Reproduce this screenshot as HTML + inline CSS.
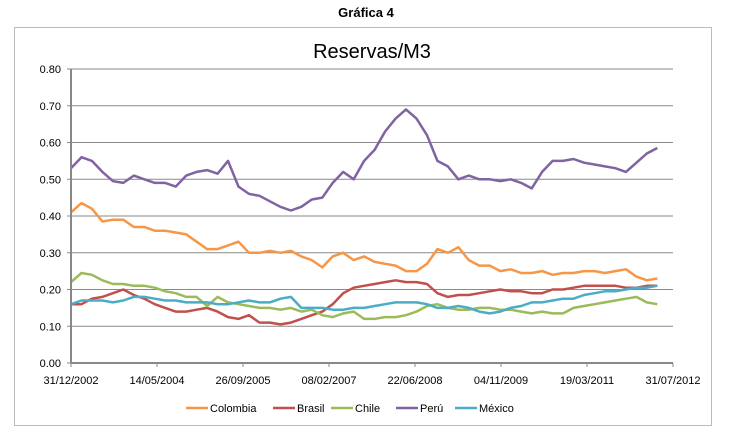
<!DOCTYPE html>
<html><head><meta charset="utf-8"><style>
body{margin:0;background:#fff;font-family:"Liberation Sans",sans-serif}
svg text{font-family:"Liberation Sans",sans-serif}
</style></head><body>
<svg id="c" width="734" height="443" viewBox="0 0 734 443" xmlns="http://www.w3.org/2000/svg">
<text x="366" y="17" text-anchor="middle" font-size="13" font-weight="bold">Gráfica 4</text>
<rect x="14.5" y="27.5" width="697" height="398" fill="#fff" stroke="#bcbcbc"/>
<text x="372" y="58" text-anchor="middle" font-size="20">Reservas/M3</text>
<g id="grid"></g><g id="series"></g><g id="axes"></g>
<g id="legend"></g>
</svg>
<script>
const yTicks=[0,0.1,0.2,0.3,0.4,0.5,0.6,0.7,0.8];
const xTickLabels=["31/12/2002","14/05/2004","26/09/2005","08/02/2007","22/06/2008","04/11/2009","19/03/2011","31/07/2012"];
const seriesNames=["Colombia","Brasil","Chile","Perú","México"];
const colombia=[.41,.435,.42,.385,.39,.39,.37,.37,.36,.36,.355,.35,.33,.31,.31,.32,.33,.30,.30,.305,.30,.305,.29,.28,.26,.29,.30,.28,.29,.275,.27,.265,.25,.25,.27,.31,.30,.315,.28,.265,.265,.25,.255,.245,.245,.25,.24,.245,.245,.25,.25,.245,.25,.255,.235,.225,.23];
const brasil=[.16,.16,.175,.18,.19,.20,.185,.175,.16,.15,.14,.14,.145,.15,.14,.125,.12,.13,.11,.11,.105,.11,.12,.13,.14,.16,.19,.205,.21,.215,.22,.225,.22,.22,.215,.19,.18,.185,.185,.19,.195,.20,.195,.195,.19,.19,.20,.20,.205,.21,.21,.21,.21,.205,.205,.21,.21];
const chile=[.22,.245,.24,.225,.215,.215,.21,.21,.205,.195,.19,.18,.18,.155,.18,.165,.16,.155,.15,.15,.145,.15,.14,.145,.13,.125,.135,.14,.12,.12,.125,.125,.13,.14,.155,.16,.15,.145,.145,.15,.15,.145,.145,.14,.135,.14,.135,.135,.15,.155,.16,.165,.17,.175,.18,.165,.16];
const peru=[.53,.56,.55,.52,.495,.49,.51,.50,.49,.49,.48,.51,.52,.525,.515,.55,.48,.46,.455,.44,.425,.415,.425,.445,.45,.49,.52,.50,.55,.58,.63,.665,.69,.665,.62,.55,.535,.50,.51,.50,.50,.495,.50,.49,.475,.52,.55,.55,.555,.545,.54,.535,.53,.52,.545,.57,.585];
const mexico=[.16,.17,.17,.17,.165,.17,.18,.18,.175,.17,.17,.165,.165,.165,.16,.16,.165,.17,.165,.165,.175,.18,.15,.15,.15,.145,.145,.15,.15,.155,.16,.165,.165,.165,.16,.15,.15,.155,.15,.14,.135,.14,.15,.155,.165,.165,.17,.175,.175,.185,.19,.195,.195,.2,.205,.205,.21];
const colors=["#F79646","#C0504D","#9BBB59","#8064A2","#4BACC6"];
const allSeries=[colombia,brasil,chile,peru,mexico];
const NS="http://www.w3.org/2000/svg";
const X0=71,X1=673,Y0=363,Y1=69,MONTHS=115,STEP=2;
const xs=m=>X0+(X1-X0)*m/MONTHS;
const ys=v=>Y0-(Y0-Y1)*v/0.8;
function mk(t,a,p){const e=document.createElementNS(NS,t);for(const k in a)e.setAttribute(k,a[k]);p.appendChild(e);return e;}
const grid=document.getElementById('grid'),axes=document.getElementById('axes'),sg=document.getElementById('series'),lg=document.getElementById('legend');
yTicks.forEach(v=>{
 if(v>0){const l=mk('line',{x1:X0,x2:X1,y1:ys(v),y2:ys(v),stroke:'#8a8a8a','stroke-width':1},grid);
 
 }
 mk('line',{x1:X0-4,x2:X0,y1:ys(v),y2:ys(v),stroke:'#888'},axes);
 const t=mk('text',{x:X0-10,y:ys(v)+4,'text-anchor':'end','font-size':11},axes);t.textContent=v.toFixed(2);
 
 
});
const ya=mk('line',{x1:X0,x2:X0,y1:Y1,y2:Y0,stroke:'#888','stroke-width':2},axes);


const xa=mk('line',{x1:X0,x2:X1,y1:Y0,y2:Y0,stroke:'#888','stroke-width':2},axes);


xTickLabels.forEach((s,i)=>{
 const x=X0+(X1-X0)*i/(xTickLabels.length-1);
 mk('line',{x1:x,x2:x,y1:Y0,y2:Y0+4,stroke:'#888'},axes);
 const t=mk('text',{x:x,y:384,'text-anchor':'middle','font-size':11},axes);t.textContent=s;
 
 
});
allSeries.forEach((d,i)=>{
 const p=mk('polyline',{points:d.map((v,k)=>xs(k*STEP).toFixed(1)+','+ys(v).toFixed(1)).join(' '),fill:'none',stroke:colors[i],'stroke-width':2.5,'stroke-linejoin':'round'},sg);
 
 
});
const lx=[186,273,331,396,455];
seriesNames.forEach((n,i)=>{
 const g=mk('g',{},lg);
 
 
 mk('line',{x1:lx[i],x2:lx[i]+22,y1:408,y2:408,stroke:colors[i],'stroke-width':2.5},g);
 const t=mk('text',{x:lx[i]+24,y:412,'font-size':11},g);t.textContent=n;
});
</script>
</body></html>
